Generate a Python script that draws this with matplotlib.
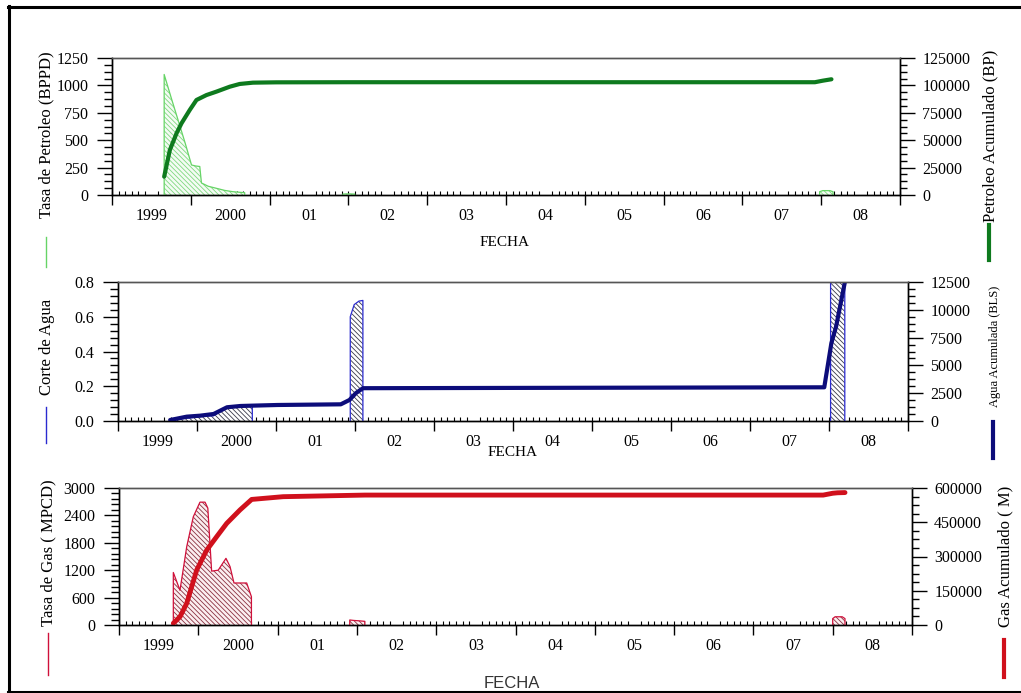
import matplotlib
matplotlib.use('Agg')
import matplotlib.pyplot as plt
import matplotlib.lines as mlines
from matplotlib.ticker import MultipleLocator, AutoMinorLocator, FixedLocator, FormatStrFormatter

plt.rcParams['font.family'] = 'Liberation Serif'
plt.rcParams['font.size'] = 11.5
plt.rcParams['hatch.linewidth'] = 0.6

W, H = 1021, 693  # figure size in pixels

years = list(range(1999, 2009))
year_labels = ['1999', '2000', '01', '02', '03', '04', '05', '06', '07', '08']

# Oil rate (BPPD), one list per production period
oil_t = [1999.662, 1999.75, 1999.84, 1999.93, 2000.009, 2000.06, 2000.114, 2000.135,
         2000.22, 2000.325, 2000.43, 2000.535, 2000.684]
oil_bppd = [1100, 890, 680, 470, 274, 265, 260, 110, 80, 61, 42, 30, 21]
oil_t_2002 = [2001.93, 2001.97, 2002.02, 2002.08]
oil_bppd_2002 = [8, 10, 10, 8]
oil_t_2008 = [2007.98, 2008.02, 2008.11, 2008.15]
oil_bppd_2008 = [30, 40, 40, 30]

# Cumulative oil (BP)
oil_cum_t = [1999.662, 1999.734, 1999.819, 1999.882, 1999.987, 2000.072, 2000.199, 2000.325,
             2000.494, 2000.62, 2000.789, 2001.085, 2002.01, 2007.92, 2008.02, 2008.13]
oil_cum = [16700, 41000, 56300, 65400, 77600, 86700, 91200, 94300,
           98800, 101300, 102500, 102800, 102900, 102900, 104300, 105600]

# Water cut (fraction)
wc_t = [1999.66, 1999.8, 1999.95, 2000.1, 2000.21, 2000.38, 2000.5, 2000.7]
wc = [0.005, 0.012, 0.02, 0.028, 0.03, 0.079, 0.085, 0.087]
wc_t_2002 = [2001.94, 2001.99, 2002.05, 2002.10]
wc_2002 = [0.60, 0.67, 0.69, 0.694]
wc_t_2008 = [2008.02, 2008.09, 2008.2]
wc_2008 = [0.92, 0.95, 0.97]

# Cumulative water (BLS)
water_cum_t = [1999.66, 1999.87, 2000.04, 2000.21, 2000.38, 2000.55, 2000.70, 2001.02,
               2001.82, 2001.93, 2002.01, 2002.10, 2007.94, 2008.03, 2008.09, 2008.2]
water_cum = [90, 390, 480, 630, 1235, 1350, 1380, 1440,
             1500, 1890, 2500, 2950, 3030, 7000, 8500, 12460]

# Gas rate (MPCD)
gas_t = [1999.685, 1999.769, 1999.854, 1999.937, 2000.021, 2000.085, 2000.12, 2000.168,
         2000.251, 2000.349, 2000.40, 2000.45, 2000.61, 2000.67]
gas_mpcd = [1150, 760, 1715, 2370, 2690, 2690, 2560, 1180,
            1200, 1460, 1280, 920, 920, 620]
gas_t_2002 = [2001.91, 2001.96, 2002.04, 2002.10]
gas_mpcd_2002 = [110, 100, 90, 80]
gas_t_2008 = [2008.0, 2008.03, 2008.12, 2008.155]
gas_mpcd_2008 = [140, 180, 180, 140]

# Cumulative gas (M)
gas_cum_t = [1999.685, 1999.77, 1999.854, 1999.917, 1999.98, 2000.106, 2000.232, 2000.358,
             2000.526, 2000.673, 2001.07, 2002.1, 2007.88, 2008.0, 2008.06, 2008.155]
gas_cum = [7300, 36500, 95000, 168000, 241000, 328000, 387000, 445000,
           504000, 550000, 562000, 569000, 569000, 577000, 579000, 580000]

HATCH = '\\' * 7


def px_rect(left, top, right, bottom):
    return [left / W, 1 - bottom / H, (right - left) / W, (bottom - top) / H]


def rate_area(ax, t, v, line_color, hatch_color, face):
    xs = [t[0]] + t + [t[-1]]
    ys = [0] + v + [0]
    ax.fill_between(xs, ys, 0, facecolor=face, edgecolor=hatch_color,
                    hatch=HATCH, linewidth=0, zorder=2)
    ax.plot(xs, ys, color=line_color, lw=0.9, zorder=3)


def style_panel(ax, axr, ymax, ystep, yminor, rmax, rstep, rminor):
    ax.set_xlim(1999, 2009)
    ax.xaxis.set_major_locator(FixedLocator([y + 0.5 for y in years]))
    ax.set_xticklabels(year_labels)
    ax.xaxis.set_minor_locator(MultipleLocator(1 / 12))
    ax.tick_params(axis='x', which='major', length=0, pad=9)
    ax.tick_params(axis='x', which='minor', direction='in', length=3, width=0.8)
    sec = ax.secondary_xaxis('bottom')
    sec.set_xticks(years + [2009])
    sec.tick_params(axis='x', length=7, width=1, labelbottom=False)
    sec.spines['bottom'].set_visible(False)

    ax.set_ylim(0, ymax)
    ax.yaxis.set_major_locator(MultipleLocator(ystep))
    ax.yaxis.set_minor_locator(AutoMinorLocator(yminor))
    ax.tick_params(axis='y', which='major', length=11, width=1, pad=6)
    ax.tick_params(axis='y', which='minor', length=6, width=1)

    axr.set_ylim(0, rmax)
    axr.yaxis.set_major_locator(MultipleLocator(rstep))
    axr.yaxis.set_minor_locator(AutoMinorLocator(rminor))
    axr.tick_params(axis='y', which='major', length=11, width=1, pad=5)
    axr.tick_params(axis='y', which='minor', length=5, width=1)

    for a in (ax, axr):
        for s in a.spines.values():
            s.set_linewidth(1.0)
        a.spines['top'].set_color('#555555')


def side_label(fig, x, y, text, size, line_y0, line_y1, line_x, color, lw):
    fig.text(x / W, 1 - y / H, text, rotation=90, ha='center', va='center', fontsize=size)
    fig.add_artist(mlines.Line2D([line_x / W, line_x / W], [1 - line_y0 / H, 1 - line_y1 / H],
                                 color=color, lw=lw))


fig = plt.figure(figsize=(W / 100, H / 100), dpi=100)

# Oil panel
ax1 = fig.add_axes(px_rect(112, 58, 900, 195))
ax1r = ax1.twinx()
rate_area(ax1, oil_t, oil_bppd, '#66d466', '#7fd87f', '#f4fcf4')
rate_area(ax1, oil_t_2002, oil_bppd_2002, '#66d466', '#7fd87f', '#f4fcf4')
rate_area(ax1, oil_t_2008, oil_bppd_2008, '#66d466', '#7fd87f', '#f4fcf4')
ax1r.plot(oil_cum_t, oil_cum, color='#0e7a1e', lw=3, solid_capstyle='round')
style_panel(ax1, ax1r, 1250, 250, 4, 125000, 25000, 4)

# Water panel
ax2 = fig.add_axes(px_rect(118, 282, 908, 421))
ax2r = ax2.twinx()
rate_area(ax2, wc_t, wc, '#2a2ad0', '#3a3a4a', 'white')
rate_area(ax2, wc_t_2002, wc_2002, '#2a2ad0', '#3a3a4a', 'white')
rate_area(ax2, wc_t_2008, wc_2008, '#2a2ad0', '#3a3a4a', 'white')
ax2r.plot(water_cum_t, water_cum, color='#0c0c7a', lw=3, solid_capstyle='round')
style_panel(ax2, ax2r, 0.8, 0.2, 5, 12500, 2500, 4)
ax2.yaxis.set_major_formatter(FormatStrFormatter('%.1f'))

# Gas panel
ax3 = fig.add_axes(px_rect(119, 488, 912, 625))
ax3r = ax3.twinx()
rate_area(ax3, gas_t, gas_mpcd, '#d0103a', '#8a3040', '#fbeef0')
rate_area(ax3, gas_t_2002, gas_mpcd_2002, '#d0103a', '#8a3040', '#fbeef0')
rate_area(ax3, gas_t_2008, gas_mpcd_2008, '#d0103a', '#8a3040', '#fbeef0')
ax3r.plot(gas_cum_t, gas_cum, color='#d0101c', lw=3.5, solid_capstyle='round')
style_panel(ax3, ax3r, 3000, 600, 5, 600000, 150000, 4)

# Axis titles with their series keys
side_label(fig, 46, 135, 'Tasa de Petroleo (BPPD)', 12, 237, 267, 45.5, '#66d466', 1.0)
side_label(fig, 990, 136, 'Petroleo Acumulado (BP)', 12, 225, 260, 989, '#0e7a1e', 3)
side_label(fig, 47, 347, 'Corte de Agua', 12, 407, 443, 45.5, '#2a2ad0', 1.0)
side_label(fig, 995, 346, 'Agua Acumulada (BLS)', 9, 422, 458, 993, '#0c0c7a', 3)
side_label(fig, 48, 553, 'Tasa de Gas ( MPCD)', 12, 633, 675, 47.5, '#d0103a', 1.0)
side_label(fig, 1005, 556, 'Gas Acumulado ( M)', 12, 640, 677, 1004, '#d0101c', 3)

fig.text(505 / W, 1 - 242 / H, 'FECHA', ha='center', va='center', fontsize=11)
fig.text(513 / W, 1 - 453 / H, 'FECHA', ha='center', va='center', fontsize=11)
fig.text(512 / W, 1 - 684 / H, 'FECHA', ha='center', va='center', fontsize=12,
         family='Liberation Sans', color='#333333')

# Outer frame
for xs, ys in [([8.5, 8.5], [6, 693]), ([8, W], [6.5, 6.5]), ([8, W], [691.5, 691.5])]:
    fig.add_artist(mlines.Line2D([x / W for x in xs], [1 - y / H for y in ys],
                                 color='black', lw=2.2))

fig.savefig('out.png', dpi=100)
